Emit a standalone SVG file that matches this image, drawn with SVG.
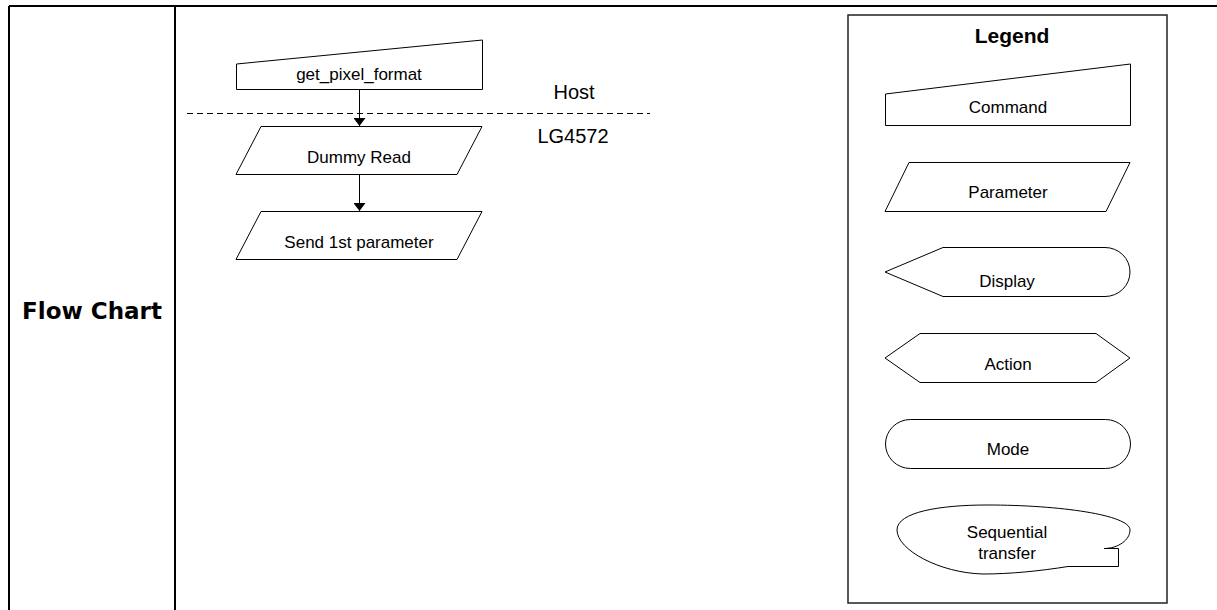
<svg xmlns="http://www.w3.org/2000/svg" width="1217" height="610" viewBox="0 0 1217 610">
<style>
.frame{stroke:#000;stroke-width:2;fill:none}
.shape{fill:#fff;stroke:#000;stroke-width:1}
.t{font-family:"Liberation Sans",Arial,sans-serif;font-size:17px;fill:#000;text-anchor:middle}
.big{font-family:"Liberation Sans",Arial,sans-serif;font-size:20px;fill:#000;text-anchor:middle}
.conn{stroke:#000;stroke-width:1;fill:none}
</style>
<defs>
<marker id="arr" markerUnits="userSpaceOnUse" markerWidth="10" markerHeight="12" viewBox="0 0 9 12" refX="8" refY="6" orient="auto">
<path d="M0,0 L8,6 L0,12 Z" fill="#000"/>
</marker>
</defs>
<rect width="1217" height="610" fill="#fff"/>
<g id="table">
<line class="frame" x1="9" y1="6" x2="1217" y2="6"/>
<line class="frame" x1="9" y1="6" x2="9" y2="610"/>
<line class="frame" x1="175" y1="6" x2="175" y2="610"/>
<text x="92" y="319" font-family="DejaVu Sans,Verdana,sans-serif" font-weight="bold" font-size="23" text-anchor="middle">Flow Chart</text>
</g>
<g id="boundary">
<line x1="187" y1="113.5" x2="650" y2="113.5" stroke="#000" stroke-width="1" stroke-dasharray="6 4"/>
<text class="big" x="574" y="99">Host</text>
<text class="big" x="573" y="143">LG4572</text>
</g>
<g id="connectors">
<line class="conn" x1="359.5" y1="89" x2="359.5" y2="126" marker-end="url(#arr)"/>
<line class="conn" x1="359.5" y1="174" x2="359.5" y2="211" marker-end="url(#arr)"/>
</g>
<g id="n_get_pixel_format">
<polygon class="shape" points="236.5,64 482.5,40 482.5,89.5 236.5,89.5"/>
<text class="t" x="359" y="80">get_pixel_format</text>
</g>
<g id="n_dummy_read">
<polygon class="shape" points="261,126.5 482,126.5 457,174.5 236,174.5"/>
<text class="t" x="359" y="163">Dummy Read</text>
</g>
<g id="n_send_param">
<polygon class="shape" points="261,211.5 482,211.5 457,259.5 236,259.5"/>
<text class="t" x="359" y="248">Send 1st parameter</text>
</g>
<g id="legend">
<rect x="848" y="15" width="319" height="588" fill="#fff" stroke="#222" stroke-width="1.5"/>
<text x="1012" y="43" font-family="Liberation Sans,Arial,sans-serif" font-weight="bold" font-size="21" text-anchor="middle">Legend</text>
<g id="lg_command">
<polygon class="shape" points="885.5,94 1130.5,64 1130.5,125.5 885.5,125.5"/>
<text class="t" x="1008" y="113">Command</text>
</g>
<g id="lg_parameter">
<polygon class="shape" points="909,162.5 1130,162.5 1106,211.5 885,211.5"/>
<text class="t" x="1008" y="198">Parameter</text>
</g>
<g id="lg_display">
<path class="shape" d="M885,272 L943,247.5 L1105,247.5 A25,24.5 0 0 1 1105,296.5 L943,296.5 Z"/>
<text class="t" x="1007" y="287">Display</text>
</g>
<g id="lg_action">
<polygon class="shape" points="885,358 920,333.5 1096,333.5 1130,358 1096,382.5 920,382.5"/>
<text class="t" x="1008" y="370">Action</text>
</g>
<g id="lg_mode">
<rect class="shape" x="885.5" y="419.5" width="245" height="49" rx="25" ry="24.5"/>
<text class="t" x="1008" y="455">Mode</text>
</g>
<g id="lg_sequential">
<path class="shape" d="M1104,548.5 L1118.5,548.5 L1118.5,566.5 L1068,566.5 C1040,571 1010,574 983,574 C940,573 897,550 897,530 C897,512 940,505 987,505 C1060,505 1130,515 1130,530 C1130,540 1118,548.5 1104,548.5 Z"/>
<text class="t" x="1007" y="538">Sequential</text>
<text class="t" x="1007" y="559">transfer</text>
</g>
</g>
</svg>
